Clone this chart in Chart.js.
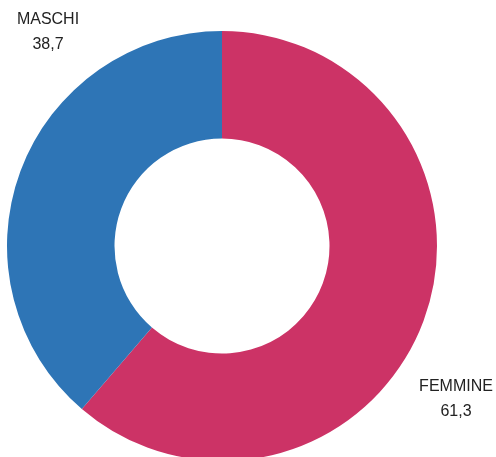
<!DOCTYPE html>
<html>
<head>
<meta charset="utf-8">
<script src="https://cdn.jsdelivr.net/npm/chart.js@4/dist/chart.umd.min.js"></script>
<style>
html,body{margin:0;padding:0;background:#fff;overflow:hidden;}
#wrap{position:relative;width:496px;height:461px;}
</style>
</head>
<body>
<div id="wrap"><canvas id="c"></canvas></div>
<script>
const categories = ["FEMMINE", "MASCHI"];
const values = [61.3, 38.7];
const valueLabels = ["61,3", "38,7"];
const colors = ["#CC3366", "#2E75B6"];

// label anchor positions (px in canvas) for each category: [x, y of name line]
const labelPos = [[456, 387], [48, 20]];

const labelPlugin = {
  id: 'outLabels',
  afterDraw(chart) {
    const ctx = chart.ctx;
    ctx.save();
    ctx.fillStyle = '#222';
    ctx.font = '16px "Liberation Sans", Arial, sans-serif';
    ctx.textAlign = 'center';
    ctx.textBaseline = 'middle';
    categories.forEach((name, i) => {
      const [x, y] = labelPos[i];
      ctx.fillText(name, x, y);
      ctx.fillText(valueLabels[i], x, y + 25);
    });
    ctx.restore();
  }
};

new Chart(document.getElementById('c'), {
  type: 'doughnut',
  data: {
    labels: categories,
    datasets: [{
      data: values,
      backgroundColor: colors,
      borderWidth: 0
    }]
  },
  options: {
    responsive: true,
    maintainAspectRatio: false,
    animation: false,
    cutout: '50%',
    layout: { padding: { left: 7, right: 59, top: 31, bottom: 0 } },
    plugins: { legend: { display: false }, tooltip: { enabled: false } }
  },
  plugins: [labelPlugin]
});
</script>
</body>
</html>
